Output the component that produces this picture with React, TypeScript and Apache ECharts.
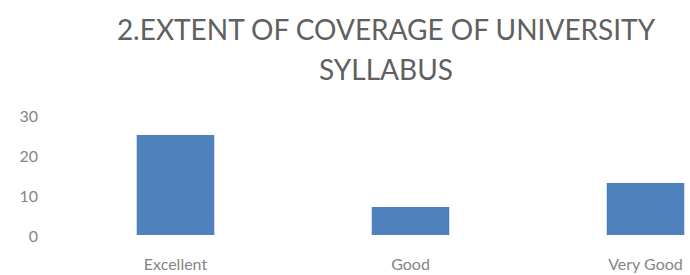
import React, { useEffect, useRef } from "react";
import * as echarts from "echarts";

const titleText = "2.EXTENT OF COVERAGE OF UNIVERSITY\nSYLLABUS";
const categories = ["Excellent", "Good", "Very Good"];
const values = [25, 7, 13];
const yMin = 0;
const yMax = 30;
const yInterval = 10;

export default function App() {
  const ref = useRef<HTMLDivElement>(null);
  useEffect(() => {
    if (!ref.current) return;
    const chart = echarts.init(ref.current, undefined, { renderer: "svg" });
    chart.setOption({
      animation: false,
      backgroundColor: "#ffffff",
      title: {
        text: titleText,
        left: "center",
        top: 4,
        textStyle: {
          fontFamily: "Lato",
          fontWeight: "normal",
          fontSize: 28,
          lineHeight: 40,
          color: "#606060",
        },
      },
      grid: { left: 58, right: 9, top: 115, bottom: 40, containLabel: false },
      xAxis: {
        type: "category",
        data: categories,
        axisLine: { show: false },
        axisTick: { show: false },
        axisLabel: {
          margin: 20,
          fontFamily: "Lato",
          fontSize: 16,
          color: "#858585",
        },
      },
      yAxis: {
        type: "value",
        min: yMin,
        max: yMax,
        interval: yInterval,
        splitLine: { show: false },
        axisLine: { show: false },
        axisTick: { show: false },
        axisLabel: {
          margin: 20,
          fontFamily: "Lato",
          fontSize: 16,
          color: "#858585",
        },
      },
      series: [
        {
          type: "bar",
          data: values,
          barWidth: "33%",
          itemStyle: { color: "#4f81bd" },
        },
      ],
    });
    return () => chart.dispose();
  }, []);
  return (
    <div
      style={{
        position: "fixed",
        left: 0,
        top: 0,
        width: 690,
        height: 275,
        overflow: "hidden",
        background: "#fff",
      }}
    >
      <div ref={ref} style={{ width: 772, height: 275 }} />
    </div>
  );
}
